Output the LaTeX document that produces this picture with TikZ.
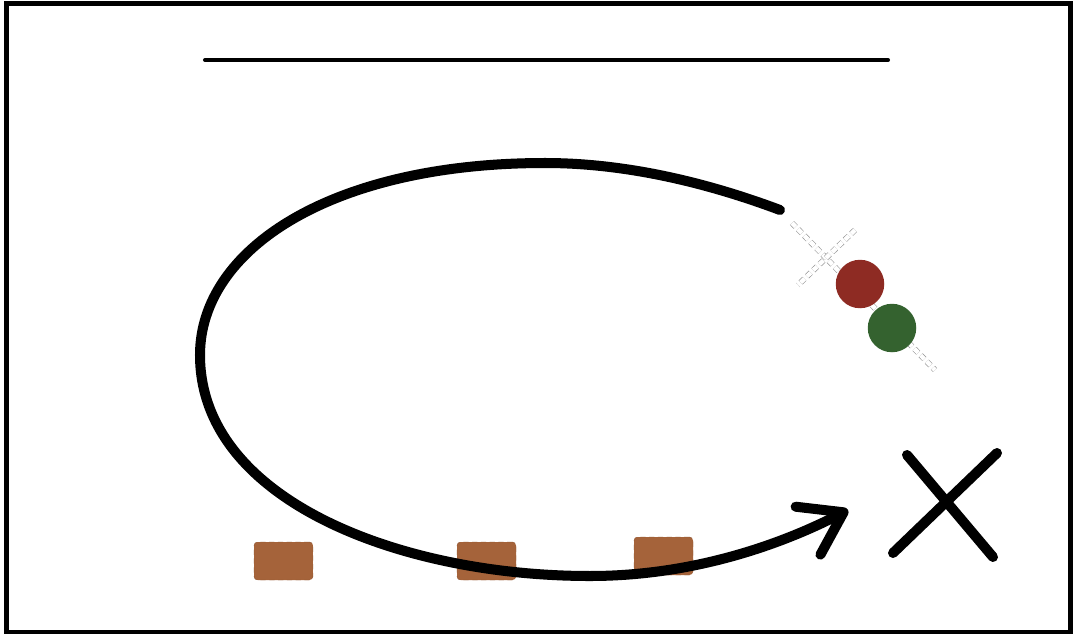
\documentclass[tikz,border=0pt]{standalone}
\usetikzlibrary{arrows.meta}

\definecolor{brick}{HTML}{8E2B23}
\definecolor{leaf}{HTML}{34622F}
\definecolor{clay}{HTML}{A5633A}

\begin{document}
\begin{tikzpicture}[x=0.02cm, y=-0.02cm,
    crate/.style={rectangle, rounded corners=2pt, fill=clay, draw=clay!85!black, densely dashed, line width=0.2pt, minimum width=1.18cm, minimum height=0.76cm, inner sep=0pt},
    ball/.style={circle, minimum size=0.97cm, inner sep=0pt},
    ghost/.style={draw=gray!85, densely dashed, line width=0.35pt, double=white, double distance=2.5pt},
    runline/.style={line width=5.7pt, line cap=round}
]
    \useasboundingbox (0,0) rectangle (1075,636);
    \draw[line width=2.8pt] (6.5,3.5) rectangle (1070.5,632);

    % top bar
    \draw[line width=2.3pt, line cap=round] (205,60) -- (888,60);

    % crates along the bottom
    \node[crate] (crateA) at (283.5,561) {};
    \node[crate] (crateB) at (486.5,561) {};
    \node[crate] (crateC) at (663.5,556) {};

    % faint marks behind the balls
    \draw[ghost] (792,223) -- (935,370);
    \draw[ghost] (855,230) -- (798,285);

    \node[ball, fill=brick] (red) at (860,284) {};
    \node[ball, fill=leaf] (green) at (892,328) {};

    % the loop
    \draw[runline, -{Straight Barb[round, length=0.8cm, width=1.08cm]}]
        (780,210) .. controls (700,180) and (620,163) .. (545,163)
        .. controls (330,163) and (200,250) .. (200,355)
        .. controls (200,500) and (400,576) .. (590,576)
        .. controls (700,576) and (790,540) .. (848,510);

    % the cross on the right
    \draw[runline] (907,455) -- (993,557);
    \draw[runline] (997,453) -- (893,553);
\end{tikzpicture}
\end{document}
